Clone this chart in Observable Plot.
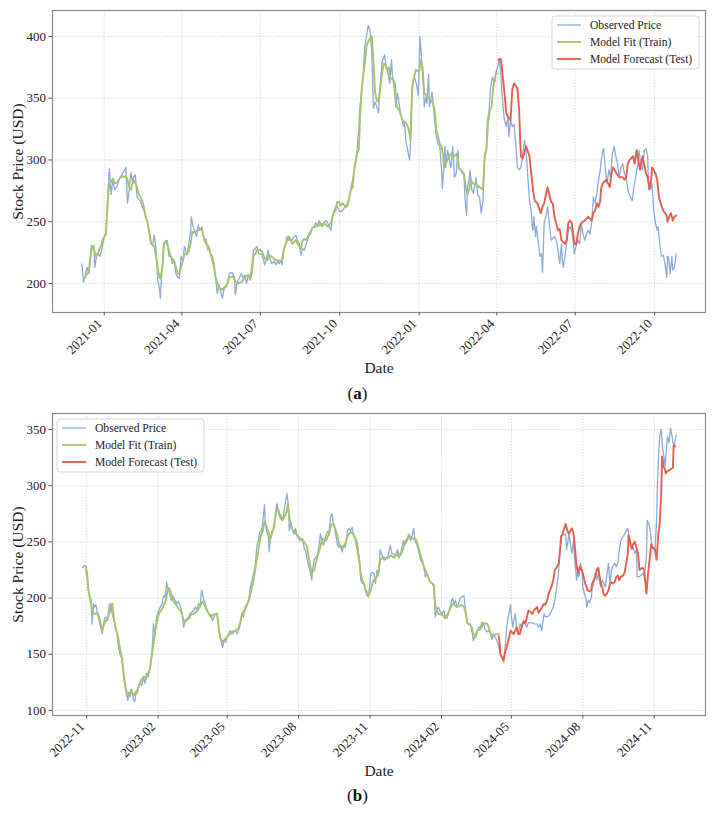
<!DOCTYPE html>
<html>
<head>
<meta charset="utf-8">
<script src="https://cdn.jsdelivr.net/npm/d3@7"></script>
<script src="https://cdn.jsdelivr.net/npm/@observablehq/plot@0.6"></script>
<style>
  html, body { margin: 0; padding: 0; background: #fff; }
  #fig { position: relative; width: 717px; height: 818px; overflow: hidden; background: #fff; }
  .panel { position: absolute; left: 0; }
  #overlay { position: absolute; left: 0; top: 0; pointer-events: none; }
</style>
</head>
<body>
<div id="fig">
  <div id="panelA" class="panel" style="top:0px"></div>
  <div id="panelB" class="panel" style="top:403px"></div>
  <svg id="overlay" width="717" height="818"></svg>
</div>
<script>
// ---- Panel (a): observed close, in-sample fit, out-of-sample forecast ----
const observedA = [
  ["2020-12-06",216],["2020-12-08",201],["2020-12-10",207],["2020-12-12",213],["2020-12-14",208],["2020-12-16",219],
  ["2020-12-17",231],["2020-12-19",228],["2020-12-20",231],["2020-12-21",213],["2020-12-23",222],["2020-12-25",224],
  ["2020-12-27",222],["2020-12-29",227],["2021-01-01",238],["2021-01-03",242],["2021-01-05",270],["2021-01-07",293],
  ["2021-01-09",272],["2021-01-11",284],["2021-01-13",276],["2021-01-16",279],["2021-01-18",284],["2021-01-20",286],
  ["2021-01-22",289],["2021-01-24",291],["2021-01-26",294],["2021-01-28",265],["2021-01-30",276],["2021-02-01",290],
  ["2021-02-03",281],["2021-02-04",286],["2021-02-06",288],["2021-02-08",270],["2021-02-10",268],["2021-02-12",267],
  ["2021-02-14",262],["2021-02-16",259],["2021-02-18",254],["2021-02-20",249],["2021-02-22",243],["2021-02-24",232],
  ["2021-02-26",231],["2021-02-28",239],["2021-03-02",227],["2021-03-04",203],["2021-03-06",195],["2021-03-07",188],
  ["2021-03-09",211],["2021-03-10",224],["2021-03-12",234],["2021-03-15",235],["2021-03-17",222],["2021-03-19",223],
  ["2021-03-21",216],["2021-03-23",219],["2021-03-25",208],["2021-03-27",205],["2021-03-29",204],["2021-03-31",222],
  ["2021-04-02",218],["2021-04-04",230],["2021-04-05",228],["2021-04-07",223],["2021-04-09",232],["2021-04-11",242],
  ["2021-04-12",254],["2021-04-14",246],["2021-04-16",242],["2021-04-18",238],["2021-04-20",247],["2021-04-22",243],
  ["2021-04-24",246],["2021-04-27",235],["2021-04-29",236],["2021-05-01",227],["2021-05-03",229],["2021-05-04",224],
  ["2021-05-06",219],["2021-05-08",213],["2021-05-10",205],["2021-05-12",192],["2021-05-14",199],["2021-05-16",193],
  ["2021-05-18",188],["2021-05-20",196],["2021-05-22",197],["2021-05-24",201],["2021-05-26",208],["2021-05-28",209],
  ["2021-05-30",208],["2021-06-01",205],["2021-06-02",191],["2021-06-04",201],["2021-06-07",205],["2021-06-09",208],
  ["2021-06-11",204],["2021-06-13",207],["2021-06-15",200],["2021-06-17",207],["2021-06-19",205],["2021-06-21",213],
  ["2021-06-23",227],["2021-06-25",228],["2021-06-27",230],["2021-06-29",224],["2021-07-01",224],["2021-07-03",223],
  ["2021-07-06",215],["2021-07-08",220],["2021-07-10",227],["2021-07-12",220],["2021-07-14",216],["2021-07-17",218],
  ["2021-07-19",215],["2021-07-21",218],["2021-07-23",216],["2021-07-25",219],["2021-07-26",215],["2021-07-28",227],
  ["2021-07-30",232],["2021-08-01",238],["2021-08-03",235],["2021-08-05",236],["2021-08-07",235],["2021-08-09",238],
  ["2021-08-11",239],["2021-08-13",235],["2021-08-15",232],["2021-08-17",223],["2021-08-19",228],["2021-08-21",227],
  ["2021-08-23",232],["2021-08-25",235],["2021-08-26",240],["2021-08-28",242],["2021-08-30",245],["2021-09-01",246],
  ["2021-09-03",249],["2021-09-05",247],["2021-09-07",251],["2021-09-09",247],["2021-09-11",246],["2021-09-13",250],
  ["2021-09-15",251],["2021-09-17",249],["2021-09-19",246],["2021-09-21",243],["2021-09-22",251],["2021-09-24",258],
  ["2021-09-26",262],["2021-09-28",263],["2021-09-30",259],["2021-10-02",258],["2021-10-04",259],["2021-10-06",261],
  ["2021-10-08",263],["2021-10-10",265],["2021-10-12",270],["2021-10-14",278],["2021-10-16",284],["2021-10-18",292],
  ["2021-10-20",303],["2021-10-21",308],["2021-10-23",324],["2021-10-24",342],["2021-10-26",351],["2021-10-28",367],
  ["2021-10-30",392],["2021-11-01",400],["2021-11-03",409],["2021-11-05",405],["2021-11-07",389],["2021-11-09",342],
  ["2021-11-11",347],["2021-11-13",343],["2021-11-15",338],["2021-11-17",362],["2021-11-19",379],["2021-11-22",385],
  ["2021-11-24",374],["2021-11-26",370],["2021-11-28",362],["2021-11-30",381],["2021-12-01",369],["2021-12-03",359],
  ["2021-12-05",343],["2021-12-07",354],["2021-12-10",340],["2021-12-14",327],["2021-12-15",330],["2021-12-17",313],
  ["2021-12-18",311],["2021-12-20",303],["2021-12-21",300],["2021-12-22",313],["2021-12-23",340],["2021-12-25",365],
  ["2021-12-27",366],["2021-12-29",361],["2021-12-30",357],["2021-12-31",352],["2022-01-01",373],["2022-01-02",400],
  ["2022-01-04",381],["2022-01-06",359],["2022-01-07",343],["2022-01-09",351],["2022-01-10",346],["2022-01-12",369],
  ["2022-01-13",343],["2022-01-16",355],["2022-01-17",348],["2022-01-19",332],["2022-01-21",319],["2022-01-23",313],
  ["2022-01-25",311],["2022-01-27",292],["2022-01-28",277],["2022-01-30",297],["2022-01-31",311],["2022-02-01",294],
  ["2022-02-03",308],["2022-02-05",300],["2022-02-07",294],["2022-02-09",311],["2022-02-11",286],["2022-02-13",289],
  ["2022-02-15",308],["2022-02-16",294],["2022-02-18",292],["2022-02-20",289],["2022-02-22",289],["2022-02-23",270],
  ["2022-02-25",255],["2022-02-26",278],["2022-02-28",284],["2022-03-01",292],["2022-03-03",276],["2022-03-05",273],
  ["2022-03-08",286],["2022-03-10",272],["2022-03-12",270],["2022-03-14",257],["2022-03-16",267],["2022-03-18",305],
  ["2022-03-20",308],["2022-03-21",330],["2022-03-23",340],["2022-03-25",359],["2022-03-27",367],["2022-03-29",363],
  ["2022-03-31",371],["2022-04-02",375],["2022-04-04",382],["2022-04-06",367],["2022-04-07",354],["2022-04-09",338],
  ["2022-04-10",332],["2022-04-12",327],["2022-04-14",335],["2022-04-15",319],["2022-04-17",332],["2022-04-19",327],
  ["2022-04-21",329],["2022-04-23",313],["2022-04-25",294],["2022-04-27",292],["2022-04-29",294],["2022-05-01",303],
  ["2022-05-03",316],["2022-05-05",308],["2022-05-07",286],["2022-05-09",267],["2022-05-11",259],["2022-05-12",246],
  ["2022-05-13",243],["2022-05-14",254],["2022-05-16",238],["2022-05-17",246],["2022-05-19",235],["2022-05-21",222],
  ["2022-05-23",224],["2022-05-24",209],["2022-05-26",249],["2022-05-28",254],["2022-05-30",262],["2022-06-01",249],
  ["2022-06-03",235],["2022-06-07",238],["2022-06-09",235],["2022-06-11",227],["2022-06-13",216],["2022-06-15",232],
  ["2022-06-16",219],["2022-06-17",213],["2022-06-19",222],["2022-06-21",232],["2022-06-23",243],["2022-06-25",246],
  ["2022-06-27",243],["2022-06-29",232],["2022-06-30",224],["2022-07-02",230],["2022-07-04",235],["2022-07-06",232],
  ["2022-07-08",249],["2022-07-10",240],["2022-07-12",235],["2022-07-14",240],["2022-07-16",243],["2022-07-18",240],
  ["2022-07-20",249],["2022-07-22",270],["2022-07-24",265],["2022-07-26",273],["2022-07-28",284],["2022-07-30",292],
  ["2022-07-31",299],["2022-08-02",308],["2022-08-03",309],["2022-08-05",292],["2022-08-07",281],["2022-08-09",292],
  ["2022-08-11",286],["2022-08-13",305],["2022-08-15",311],["2022-08-17",303],["2022-08-19",297],["2022-08-21",286],
  ["2022-08-23",294],["2022-08-25",297],["2022-08-27",289],["2022-08-29",286],["2022-08-31",276],["2022-09-01",273],
  ["2022-09-03",270],["2022-09-05",267],["2022-09-07",278],["2022-09-09",286],["2022-09-11",294],["2022-09-13",308],
  ["2022-09-15",294],["2022-09-17",292],["2022-09-19",308],["2022-09-21",309],["2022-09-23",303],["2022-09-24",276],
  ["2022-09-26",276],["2022-09-28",281],["2022-09-30",259],["2022-10-02",249],["2022-10-04",243],["2022-10-05",246],
  ["2022-10-07",232],["2022-10-09",222],["2022-10-11",223],["2022-10-13",216],["2022-10-15",205],["2022-10-16",222],
  ["2022-10-17",222],["2022-10-19",208],["2022-10-21",222],["2022-10-22",211],["2022-10-24",213],["2022-10-26",224]
];
const fitA = [
  ["2020-12-08",203],["2020-12-10",205],["2020-12-12",208],["2020-12-14",209],["2020-12-16",222],["2020-12-18",230],
  ["2020-12-20",228],["2020-12-22",222],["2020-12-24",224],["2020-12-26",227],["2020-12-28",230],["2020-12-30",235],
  ["2021-01-03",240],["2021-01-04",254],["2021-01-06",276],["2021-01-08",281],["2021-01-11",285],["2021-01-13",281],
  ["2021-01-16",282],["2021-01-18",284],["2021-01-20",286],["2021-01-22",287],["2021-01-24",286],["2021-01-26",287],
  ["2021-01-28",284],["2021-01-30",278],["2021-02-01",276],["2021-02-03",282],["2021-02-04",284],["2021-02-06",281],
  ["2021-02-08",278],["2021-02-10",272],["2021-02-12",270],["2021-02-14",267],["2021-02-16",262],["2021-02-18",254],
  ["2021-02-20",250],["2021-02-22",242],["2021-02-24",234],["2021-02-26",231],["2021-02-28",230],["2021-03-02",222],
  ["2021-03-04",213],["2021-03-06",205],["2021-03-07",204],["2021-03-10",216],["2021-03-11",232],["2021-03-13",234],
  ["2021-03-15",232],["2021-03-17",227],["2021-03-19",222],["2021-03-21",220],["2021-03-23",218],["2021-03-25",213],
  ["2021-03-27",208],["2021-03-29",208],["2021-03-31",213],["2021-04-02",218],["2021-04-04",224],["2021-04-07",224],
  ["2021-04-09",226],["2021-04-11",232],["2021-04-13",242],["2021-04-15",241],["2021-04-17",242],["2021-04-19",243],
  ["2021-04-21",243],["2021-04-24",245],["2021-04-27",235],["2021-04-29",232],["2021-05-01",231],["2021-05-03",227],
  ["2021-05-04",224],["2021-05-06",222],["2021-05-08",216],["2021-05-10",205],["2021-05-12",200],["2021-05-14",197],
  ["2021-05-16",196],["2021-05-18",195],["2021-05-20",197],["2021-05-22",198],["2021-05-24",200],["2021-05-26",205],
  ["2021-05-28",205],["2021-05-30",206],["2021-06-01",203],["2021-06-04",200],["2021-06-09",201],["2021-06-13",205],
  ["2021-06-17",207],["2021-06-19",203],["2021-06-21",208],["2021-06-23",222],["2021-06-25",224],["2021-06-27",227],
  ["2021-07-01",227],["2021-07-03",226],["2021-07-06",220],["2021-07-09",219],["2021-07-11",223],["2021-07-13",222],
  ["2021-07-17",220],["2021-07-19",219],["2021-07-25",218],["2021-07-26",219],["2021-07-28",227],["2021-07-30",231],
  ["2021-08-01",235],["2021-08-03",238],["2021-08-05",235],["2021-08-07",232],["2021-08-11",235],["2021-08-13",232],
  ["2021-08-15",230],["2021-08-17",228],["2021-08-19",235],["2021-08-21",236],["2021-08-23",235],["2021-08-25",238],
  ["2021-08-28",240],["2021-08-30",245],["2021-09-03",246],["2021-09-07",247],["2021-09-09",249],["2021-09-11",247],
  ["2021-09-13",249],["2021-09-17",246],["2021-09-21",249],["2021-09-22",253],["2021-09-24",257],["2021-09-26",259],
  ["2021-09-28",266],["2021-09-30",266],["2021-10-02",263],["2021-10-04",265],["2021-10-08",262],["2021-10-10",263],
  ["2021-10-12",269],["2021-10-14",276],["2021-10-16",278],["2021-10-18",294],["2021-10-20",301],["2021-10-21",305],
  ["2021-10-23",308],["2021-10-25",340],["2021-10-26",354],["2021-10-28",367],["2021-10-30",378],["2021-11-01",392],
  ["2021-11-03",396],["2021-11-05",398],["2021-11-07",400],["2021-11-09",381],["2021-11-11",354],["2021-11-13",348],
  ["2021-11-15",347],["2021-11-17",359],["2021-11-19",370],["2021-11-21",378],["2021-11-23",377],["2021-11-25",373],
  ["2021-11-27",375],["2021-11-28",367],["2021-11-30",366],["2021-12-02",365],["2021-12-04",362],["2021-12-06",343],
  ["2021-12-09",340],["2021-12-13",332],["2021-12-17",330],["2021-12-20",325],["2021-12-22",316],["2021-12-23",338],
  ["2021-12-24",359],["2021-12-26",366],["2021-12-28",373],["2022-01-01",371],["2022-01-03",381],["2022-01-05",375],
  ["2022-01-07",354],["2022-01-11",351],["2022-01-15",348],["2022-01-17",346],["2022-01-19",340],["2022-01-21",324],
  ["2022-01-23",319],["2022-01-25",313],["2022-01-27",311],["2022-01-29",303],["2022-01-30",294],["2022-02-01",297],
  ["2022-02-03",300],["2022-02-05",303],["2022-02-07",305],["2022-02-11",303],["2022-02-13",305],["2022-02-15",301],
  ["2022-02-16",293],["2022-02-18",292],["2022-02-22",289],["2022-02-24",278],["2022-02-26",272],["2022-02-28",276],
  ["2022-03-02",284],["2022-03-04",281],["2022-03-08",280],["2022-03-12",278],["2022-03-16",276],["2022-03-18",303],
  ["2022-03-20",308],["2022-03-22",330],["2022-03-24",340],["2022-03-26",343],["2022-03-28",359],["2022-03-30",365],
  ["2022-03-31",370],["2022-04-02",370]
];
const forecastA = [
  ["2022-04-03",381],["2022-04-05",382],["2022-04-06",381],["2022-04-08",367],["2022-04-10",354],["2022-04-12",338],
  ["2022-04-14",335],["2022-04-17",332],["2022-04-19",357],["2022-04-21",362],["2022-04-25",358],["2022-04-27",340],
  ["2022-04-28",319],["2022-04-29",303],["2022-05-01",301],["2022-05-05",311],["2022-05-07",307],["2022-05-09",303],
  ["2022-05-11",289],["2022-05-13",276],["2022-05-15",267],["2022-05-18",265],["2022-05-20",261],["2022-05-22",257],
  ["2022-05-24",262],["2022-05-26",265],["2022-05-28",272],["2022-05-30",278],["2022-06-01",272],["2022-06-03",266],
  ["2022-06-05",265],["2022-06-07",254],["2022-06-11",243],["2022-06-13",244],["2022-06-15",235],["2022-06-19",232],
  ["2022-06-21",235],["2022-06-23",249],["2022-06-25",251],["2022-06-27",249],["2022-06-29",238],["2022-06-30",232],
  ["2022-07-02",232],["2022-07-04",240],["2022-07-06",246],["2022-07-08",249],["2022-07-12",251],["2022-07-16",254],
  ["2022-07-20",251],["2022-07-22",257],["2022-07-24",259],["2022-07-26",265],["2022-07-28",262],["2022-07-30",267],
  ["2022-07-31",277],["2022-08-02",281],["2022-08-06",284],["2022-08-10",278],["2022-08-12",289],["2022-08-14",294],
  ["2022-08-18",289],["2022-08-21",286],["2022-08-25",286],["2022-08-27",284],["2022-08-29",286],["2022-08-31",297],
  ["2022-09-02",300],["2022-09-06",303],["2022-09-08",297],["2022-09-10",308],["2022-09-12",300],["2022-09-14",292],
  ["2022-09-17",303],["2022-09-21",289],["2022-09-23",286],["2022-09-25",277],["2022-09-27",284],["2022-09-28",294],
  ["2022-09-30",292],["2022-10-02",289],["2022-10-04",284],["2022-10-06",270],["2022-10-08",265],["2022-10-11",259],
  ["2022-10-13",257],["2022-10-15",255],["2022-10-16",250],["2022-10-18",254],["2022-10-20",257],["2022-10-22",251],
  ["2022-10-24",254],["2022-10-26",255]
];

// ---- Panel (b) ----
const observedB = [
  ["2022-10-27",227],["2022-10-29",229],["2022-10-31",228],["2022-11-02",222],["2022-11-03",207],["2022-11-05",202],
  ["2022-11-07",197],["2022-11-08",177],["2022-11-10",195],["2022-11-11",192],["2022-11-13",194],["2022-11-15",186],
  ["2022-11-17",180],["2022-11-19",174],["2022-11-21",168],["2022-11-22",174],["2022-11-24",182],["2022-11-26",183],
  ["2022-11-28",180],["2022-11-30",194],["2022-12-02",195],["2022-12-03",189],["2022-12-05",183],["2022-12-07",178],
  ["2022-12-08",174],["2022-12-10",168],["2022-12-12",156],["2022-12-14",150],["2022-12-16",147],["2022-12-18",134],
  ["2022-12-20",124],["2022-12-22",115],["2022-12-24",109],["2022-12-25",116],["2022-12-27",112],["2022-12-29",119],
  ["2022-12-31",110],["2023-01-02",108],["2023-01-03",114],["2023-01-05",115],["2023-01-07",121],["2023-01-09",124],
  ["2023-01-11",122],["2023-01-13",130],["2023-01-15",124],["2023-01-17",133],["2023-01-19",130],["2023-01-21",135],
  ["2023-01-24",150],["2023-01-26",177],["2023-01-28",165],["2023-01-30",183],["2023-02-02",189],["2023-02-04",192],
  ["2023-02-06",195],["2023-02-08",202],["2023-02-10",201],["2023-02-12",214],["2023-02-14",207],["2023-02-16",204],
  ["2023-02-18",198],["2023-02-20",202],["2023-02-23",198],["2023-02-25",195],["2023-02-27",197],["2023-03-02",192],
  ["2023-03-04",186],["2023-03-06",174],["2023-03-08",180],["2023-03-10",182],["2023-03-12",183],["2023-03-14",186],
  ["2023-03-19",189],["2023-03-21",192],["2023-03-23",190],["2023-03-25",195],["2023-03-27",192],["2023-03-29",207],
  ["2023-04-01",198],["2023-04-03",194],["2023-04-05",189],["2023-04-07",186],["2023-04-10",185],["2023-04-12",180],
  ["2023-04-16",186],["2023-04-18",186],["2023-04-20",174],["2023-04-22",165],["2023-04-25",156],["2023-04-27",162],
  ["2023-04-29",161],["2023-05-01",165],["2023-05-03",168],["2023-05-05",171],["2023-05-07",168],["2023-05-10",170],
  ["2023-05-12",171],["2023-05-14",168],["2023-05-16",172],["2023-05-18",177],["2023-05-20",186],["2023-05-22",183],
  ["2023-05-24",192],["2023-05-27",195],["2023-05-29",200],["2023-05-31",210],["2023-06-02",216],["2023-06-04",222],
  ["2023-06-06",228],["2023-06-08",245],["2023-06-10",251],["2023-06-12",259],["2023-06-14",260],["2023-06-16",269],
  ["2023-06-18",283],["2023-06-19",267],["2023-06-21",259],["2023-06-23",255],["2023-06-24",241],["2023-06-26",255],
  ["2023-06-28",260],["2023-07-01",263],["2023-07-02",275],["2023-07-04",284],["2023-07-06",278],["2023-07-07",275],
  ["2023-07-09",274],["2023-07-11",269],["2023-07-13",275],["2023-07-15",286],["2023-07-17",293],["2023-07-19",281],
  ["2023-07-20",260],["2023-07-22",267],["2023-07-24",260],["2023-07-26",257],["2023-07-28",262],["2023-07-30",255],
  ["2023-08-03",251],["2023-08-06",253],["2023-08-08",245],["2023-08-10",242],["2023-08-12",234],["2023-08-14",228],
  ["2023-08-16",223],["2023-08-18",216],["2023-08-19",225],["2023-08-21",234],["2023-08-23",236],["2023-08-25",238],
  ["2023-08-27",245],["2023-08-29",257],["2023-08-31",251],["2023-09-02",247],["2023-09-05",255],["2023-09-07",259],
  ["2023-09-09",257],["2023-09-11",272],["2023-09-13",275],["2023-09-14",269],["2023-09-17",260],["2023-09-18",256],
  ["2023-09-20",247],["2023-09-22",245],["2023-09-24",247],["2023-09-26",241],["2023-09-28",247],["2023-09-30",245],
  ["2023-10-03",260],["2023-10-05",262],["2023-10-07",260],["2023-10-09",263],["2023-10-11",255],["2023-10-13",253],
  ["2023-10-15",251],["2023-10-18",236],["2023-10-20",216],["2023-10-22",213],["2023-10-24",213],["2023-10-26",207],
  ["2023-10-28",202],["2023-10-30",201],["2023-11-02",222],["2023-11-04",223],["2023-11-06",222],["2023-11-08",213],
  ["2023-11-10",225],["2023-11-12",222],["2023-11-14",243],["2023-11-17",237],["2023-11-21",236],["2023-11-23",236],
  ["2023-11-25",240],["2023-11-27",247],["2023-11-29",240],["2023-12-04",238],["2023-12-06",243],["2023-12-08",240],
  ["2023-12-10",238],["2023-12-12",245],["2023-12-14",251],["2023-12-16",248],["2023-12-19",251],["2023-12-21",257],
  ["2023-12-23",251],["2023-12-25",255],["2023-12-27",262],["2023-12-29",251],["2023-12-31",248],["2024-01-03",240],
  ["2024-01-05",234],["2024-01-07",232],["2024-01-09",229],["2024-01-11",219],["2024-01-13",222],["2024-01-16",216],
  ["2024-01-18",214],["2024-01-20",213],["2024-01-22",210],["2024-01-24",183],["2024-01-26",189],["2024-01-28",192],
  ["2024-01-31",187],["2024-02-02",186],["2024-02-04",189],["2024-02-06",183],["2024-02-08",182],["2024-02-10",186],
  ["2024-02-12",192],["2024-02-15",200],["2024-02-17",195],["2024-02-19",198],["2024-02-21",192],["2024-02-23",195],
  ["2024-02-25",200],["2024-02-27",201],["2024-03-01",202],["2024-03-03",189],["2024-03-05",180],["2024-03-07",176],
  ["2024-03-09",177],["2024-03-11",171],["2024-03-13",162],["2024-03-16",168],["2024-03-18",171],["2024-03-20",174],
  ["2024-03-24",174],["2024-03-26",178],["2024-03-28",172],["2024-03-31",170],["2024-04-02",171],["2024-04-04",168],
  ["2024-04-06",163],["2024-04-08",168],["2024-04-10",165],["2024-04-12",163],["2024-04-15",156],["2024-04-17",150],
  ["2024-04-19",146],["2024-04-21",143],["2024-04-23",156],["2024-04-25",174],["2024-04-27",183],["2024-04-30",194],
  ["2024-05-01",183],["2024-05-03",174],["2024-05-04",180],["2024-05-06",186],["2024-05-08",171],["2024-05-10",168],
  ["2024-05-12",177],["2024-05-15",174],["2024-05-17",180],["2024-05-19",177],["2024-05-21",174],["2024-05-23",178],
  ["2024-05-28",178],["2024-05-30",177],["2024-06-03",177],["2024-06-05",174],["2024-06-07",177],["2024-06-09",171],
  ["2024-06-12",186],["2024-06-14",183],["2024-06-18",184],["2024-06-20",186],["2024-06-22",189],["2024-06-24",192],
  ["2024-06-26",198],["2024-06-28",207],["2024-07-01",225],["2024-07-03",245],["2024-07-05",255],["2024-07-10",257],
  ["2024-07-11",243],["2024-07-13",251],["2024-07-14",257],["2024-07-16",248],["2024-07-18",240],["2024-07-20",251],
  ["2024-07-22",231],["2024-07-24",216],["2024-07-25",222],["2024-07-27",219],["2024-07-29",231],["2024-07-31",225],
  ["2024-08-01",210],["2024-08-03",204],["2024-08-05",200],["2024-08-06",192],["2024-08-08",198],["2024-08-10",196],
  ["2024-08-12",201],["2024-08-13",208],["2024-08-15",213],["2024-08-17",222],["2024-08-19",216],["2024-08-21",222],
  ["2024-08-24",210],["2024-08-26",216],["2024-08-28",213],["2024-08-30",210],["2024-09-03",231],["2024-09-05",213],
  ["2024-09-07",225],["2024-09-09",229],["2024-09-11",231],["2024-09-13",228],["2024-09-15",231],["2024-09-17",243],
  ["2024-09-19",251],["2024-09-22",255],["2024-09-24",257],["2024-09-26",260],["2024-09-28",262],["2024-10-01",248],
  ["2024-10-03",243],["2024-10-05",245],["2024-10-07",240],["2024-10-09",243],["2024-10-10",219],["2024-10-13",219],
  ["2024-10-17",222],["2024-10-19",219],["2024-10-22",237],["2024-10-23",269],["2024-10-25",266],["2024-10-27",260],
  ["2024-10-29",245],["2024-11-02",243],["2024-11-04",269],["2024-11-05",299],["2024-11-07",332],["2024-11-08",344],
  ["2024-11-10",350],["2024-11-12",332],["2024-11-13",328],["2024-11-15",317],["2024-11-17",335],["2024-11-18",344],
  ["2024-11-20",338],["2024-11-22",351],["2024-11-24",344],["2024-11-25",338],["2024-11-27",336],["2024-11-29",345]
];
const fitB = [
  ["2022-10-31",226],["2022-11-02",216],["2022-11-04",204],["2022-11-06",197],["2022-11-08",189],["2022-11-10",186],
  ["2022-11-13",186],["2022-11-15",187],["2022-11-17",183],["2022-11-19",177],["2022-11-21",171],["2022-11-23",176],
  ["2022-11-25",179],["2022-11-28",182],["2022-11-30",186],["2022-12-02",192],["2022-12-04",195],["2022-12-06",183],
  ["2022-12-08",174],["2022-12-11",167],["2022-12-13",159],["2022-12-15",152],["2022-12-17",144],["2022-12-19",130],
  ["2022-12-21",121],["2022-12-23",115],["2022-12-26",113],["2022-12-28",118],["2022-12-30",115],["2023-01-01",113],
  ["2023-01-03",116],["2023-01-05",118],["2023-01-07",121],["2023-01-10",127],["2023-01-14",130],["2023-01-16",128],
  ["2023-01-18",131],["2023-01-20",134],["2023-01-22",139],["2023-01-24",150],["2023-01-26",159],["2023-01-28",171],
  ["2023-01-31",180],["2023-02-02",186],["2023-02-06",190],["2023-02-09",195],["2023-02-11",198],["2023-02-13",207],
  ["2023-02-15",209],["2023-02-17",206],["2023-02-19",201],["2023-02-21",197],["2023-02-24",194],["2023-02-28",190],
  ["2023-03-02",189],["2023-03-04",185],["2023-03-06",180],["2023-03-08",179],["2023-03-13",182],["2023-03-15",185],
  ["2023-03-19",186],["2023-03-24",189],["2023-03-28",194],["2023-03-30",197],["2023-04-01",195],["2023-04-05",189],
  ["2023-04-10",183],["2023-04-12",185],["2023-04-18",186],["2023-04-20",174],["2023-04-22",164],["2023-04-25",161],
  ["2023-04-29",164],["2023-05-03",167],["2023-05-07",170],["2023-05-12",171],["2023-05-16",174],["2023-05-18",179],
  ["2023-05-20",186],["2023-05-24",190],["2023-05-29",198],["2023-05-31",204],["2023-06-02",210],["2023-06-04",216],
  ["2023-06-06",225],["2023-06-08",234],["2023-06-10",241],["2023-06-12",251],["2023-06-14",257],["2023-06-16",260],
  ["2023-06-18",268],["2023-06-21",263],["2023-06-23",259],["2023-06-25",251],["2023-06-27",256],["2023-06-29",260],
  ["2023-07-02",272],["2023-07-04",279],["2023-07-06",278],["2023-07-08",272],["2023-07-11",269],["2023-07-13",271],
  ["2023-07-15",274],["2023-07-17",278],["2023-07-18",284],["2023-07-20",272],["2023-07-22",266],["2023-07-23",262],
  ["2023-07-26",260],["2023-07-30",256],["2023-08-03",253],["2023-08-07",251],["2023-08-10",248],["2023-08-12",245],
  ["2023-08-14",236],["2023-08-16",228],["2023-08-18",222],["2023-08-21",225],["2023-08-23",231],["2023-08-25",236],
  ["2023-08-27",241],["2023-08-29",245],["2023-08-31",253],["2023-09-05",251],["2023-09-09",257],["2023-09-11",263],
  ["2023-09-13",266],["2023-09-15",266],["2023-09-17",262],["2023-09-20",255],["2023-09-22",248],["2023-09-26",245],
  ["2023-09-30",248],["2023-10-03",255],["2023-10-05",257],["2023-10-07",259],["2023-10-11",256],["2023-10-13",253],
  ["2023-10-15",245],["2023-10-18",234],["2023-10-20",222],["2023-10-22",216],["2023-10-24",213],["2023-10-26",208],
  ["2023-10-28",205],["2023-10-30",202],["2023-11-02",207],["2023-11-04",213],["2023-11-06",216],["2023-11-10",219],
  ["2023-11-12",222],["2023-11-14",234],["2023-11-17",236],["2023-11-19",234],["2023-11-25",236],["2023-11-27",238],
  ["2023-12-02",236],["2023-12-06",240],["2023-12-08",236],["2023-12-12",241],["2023-12-14",245],["2023-12-16",250],
  ["2023-12-19",253],["2023-12-21",256],["2023-12-25",253],["2023-12-29",253],["2023-12-31",251],["2024-01-03",243],
  ["2024-01-05",238],["2024-01-07",234],["2024-01-09",228],["2024-01-11",225],["2024-01-13",222],["2024-01-16",217],
  ["2024-01-18",214],["2024-01-22",212],["2024-01-24",194],["2024-01-26",189],["2024-01-28",186],["2024-02-02",185],
  ["2024-02-06",182],["2024-02-08",185],["2024-02-12",190],["2024-02-15",195],["2024-02-21",192],["2024-02-27",194],
  ["2024-03-01",192],["2024-03-03",187],["2024-03-05",178],["2024-03-09",176],["2024-03-11",174],["2024-03-13",168],
  ["2024-03-16",165],["2024-03-18",171],["2024-03-22",172],["2024-03-24",178],["2024-03-31",177],["2024-04-02",174],
  ["2024-04-04",168],["2024-04-06",167],["2024-04-15",168]
];
const forecastB = [
  ["2024-04-15",166],["2024-04-17",150],["2024-04-19",147],["2024-04-21",145],["2024-04-23",152],["2024-04-25",156],
  ["2024-04-27",162],["2024-04-30",171],["2024-05-04",168],["2024-05-06",171],["2024-05-08",174],["2024-05-10",168],
  ["2024-05-12",168],["2024-05-15",177],["2024-05-17",179],["2024-05-19",177],["2024-05-21",183],["2024-05-23",189],
  ["2024-05-28",186],["2024-05-30",189],["2024-06-03",192],["2024-06-05",187],["2024-06-07",189],["2024-06-12",195],
  ["2024-06-14",194],["2024-06-16",198],["2024-06-18",204],["2024-06-22",211],["2024-06-24",216],["2024-06-26",225],
  ["2024-06-28",227],["2024-07-01",231],["2024-07-03",245],["2024-07-04",255],["2024-07-06",257],["2024-07-08",262],
  ["2024-07-10",266],["2024-07-12",260],["2024-07-14",257],["2024-07-16",260],["2024-07-18",262],["2024-07-20",257],
  ["2024-07-21",251],["2024-07-23",236],["2024-07-24",228],["2024-07-26",222],["2024-07-28",228],["2024-07-30",225],
  ["2024-07-31",225],["2024-08-02",219],["2024-08-04",213],["2024-08-06",210],["2024-08-07",207],["2024-08-10",206],
  ["2024-08-12",207],["2024-08-13",213],["2024-08-15",216],["2024-08-17",219],["2024-08-19",225],["2024-08-21",227],
  ["2024-08-22",222],["2024-08-24",213],["2024-08-26",210],["2024-08-28",203],["2024-08-30",202],["2024-09-01",204],
  ["2024-09-03",207],["2024-09-05",213],["2024-09-07",214],["2024-09-09",213],["2024-09-11",214],["2024-09-13",219],
  ["2024-09-15",220],["2024-09-17",216],["2024-09-19",219],["2024-09-22",220],["2024-09-24",223],["2024-09-26",231],
  ["2024-09-28",240],["2024-09-29",256],["2024-10-01",250],["2024-10-03",244],["2024-10-05",248],["2024-10-07",250],
  ["2024-10-09",245],["2024-10-11",240],["2024-10-13",225],["2024-10-17",227],["2024-10-19",225],["2024-10-21",210],
  ["2024-10-22",204],["2024-10-24",222],["2024-10-26",234],["2024-10-28",248],["2024-10-30",245],["2024-11-02",243],
  ["2024-11-04",234],["2024-11-06",255],["2024-11-08",266],["2024-11-10",293],["2024-11-11",326],["2024-11-13",317],
  ["2024-11-15",314],["2024-11-16",311],["2024-11-18",313],["2024-11-21",314],["2024-11-25",316],["2024-11-26",336],
  ["2024-11-28",335]
];

// Axis ticks and visible extents
const xTicksA = ["2021-01-01","2021-04-01","2021-07-01","2021-10-01","2022-01-01","2022-04-01","2022-07-01","2022-10-01"];
const yTicksA = [200, 250, 300, 350, 400];
const xDomainA = ["2020-11-02", "2022-11-29"];
const yDomainA = [176.5, 421];

const xTicksB = ["2022-11-01","2023-02-01","2023-05-01","2023-08-01","2023-11-01","2024-02-01","2024-05-01","2024-08-01","2024-11-01"];
const yTicksB = [100, 150, 200, 250, 300, 350];
const xDomainB = ["2022-09-18", "2025-01-06"];
const yDomainB = [95.5, 364.2];

const seriesNames = ["Observed Price", "Model Fit (Train)", "Model Forecast (Test)"];
const seriesColors = ["#8eaadb", "#a7c36d", "#e4604e"];
const seriesWidths = [1.3, 1.9, 1.9];

const FONT = "'Liberation Serif', 'Times New Roman', serif";
const toRows = (pairs) => pairs.map(([d, v]) => ({date: new Date(d + "T00:00:00Z"), price: v}));
const toDates = (arr) => arr.map((d) => new Date(d + "T00:00:00Z"));

function drawPanel({obs, fit, fc, xTicks, yTicks, xDomain, yDomain}) {
  const xt = toDates(xTicks);
  const grid = {stroke: "#c4c4c4", strokeOpacity: 0.9, strokeWidth: 0.8, strokeDasharray: "1.2,1.6"};
  return Plot.plot({
    width: 717,
    height: 380,
    marginTop: 10,
    marginRight: 12,
    marginBottom: 68,
    marginLeft: 52,
    style: {fontFamily: FONT, fontSize: "13px", color: "#222", background: "white", overflow: "visible"},
    x: {type: "utc", domain: toDates(xDomain)},
    y: {domain: yDomain},
    marks: [
      Plot.gridX(xt, grid),
      Plot.gridY(yTicks, grid),
      Plot.line(toRows(obs), {x: "date", y: "price", stroke: seriesColors[0], strokeWidth: seriesWidths[0]}),
      Plot.line(toRows(fit), {x: "date", y: "price", stroke: seriesColors[1], strokeWidth: seriesWidths[1]}),
      Plot.line(toRows(fc), {x: "date", y: "price", stroke: seriesColors[2], strokeWidth: seriesWidths[2]}),
      Plot.frame({stroke: "#8c8c8c", strokeWidth: 1.2}),
      // x: tick marks + axis title
      Plot.axisX(xt, {tickSize: 3.5, stroke: "#555", tickFormat: () => "", label: "Date", labelAnchor: "center",
        labelOffset: 60, labelArrow: "none", fontSize: 15.5, fill: "#222"}),
      // x: rotated tick labels
      Plot.axisX(xt, {tickSize: 0, tickPadding: 6.5, tickRotate: -45, textAnchor: "end", lineAnchor: "middle",
        tickFormat: d3.utcFormat("%Y-%m"), label: null, fontSize: 13, fill: "#222", dx: -4.6, dy: 2.5}),
      // y: ticks and tick labels
      Plot.axisY(yTicks, {tickSize: 3.5, tickPadding: 3, stroke: "#555", label: null, fontSize: 13, fill: "#222"}),
      // y: axis title
      Plot.axisY(yTicks, {tickSize: 0, tickFormat: () => "", label: "Stock Price (USD)", labelAnchor: "center",
        labelOffset: 41, labelArrow: "none", fontSize: 15.5, fill: "#222"})
    ]
  });
}

document.getElementById("panelA").append(drawPanel({
  obs: observedA, fit: fitA, fc: forecastA, xTicks: xTicksA, yTicks: yTicksA, xDomain: xDomainA, yDomain: yDomainA
}));
document.getElementById("panelB").append(drawPanel({
  obs: observedB, fit: fitB, fc: forecastB, xTicks: xTicksB, yTicks: yTicksB, xDomain: xDomainB, yDomain: yDomainB
}));

// Legends and panel captions
const svg = d3.select("#overlay").style("font-family", FONT);
function legend(x, y) {
  const g = svg.append("g").attr("transform", `translate(${x},${y})`);
  g.append("rect").attr("width", 147).attr("height", 53).attr("rx", 3)
    .attr("fill", "white").attr("fill-opacity", 0.85).attr("stroke", "#d6d6d6").attr("stroke-width", 1);
  seriesNames.forEach((name, i) => {
    const cy = 9 + i * 17;
    g.append("line").attr("x1", 5).attr("x2", 29).attr("y1", cy).attr("y2", cy)
      .attr("stroke", seriesColors[i]).attr("stroke-width", seriesWidths[i]);
    g.append("text").attr("x", 38).attr("y", cy).attr("dy", "0.35em")
      .attr("font-size", 11.6).attr("fill", "#222").text(name);
  });
}
legend(552, 16);
legend(57, 419);

function caption(letter, y) {
  const t = svg.append("text").attr("x", 357.5).attr("y", y).attr("text-anchor", "middle")
    .attr("font-size", 17).attr("fill", "#111");
  t.append("tspan").text("(");
  t.append("tspan").attr("font-weight", "bold").text(letter);
  t.append("tspan").text(")");
}
caption("a", 398.5);
caption("b", 800.5);
</script>
</body>
</html>
